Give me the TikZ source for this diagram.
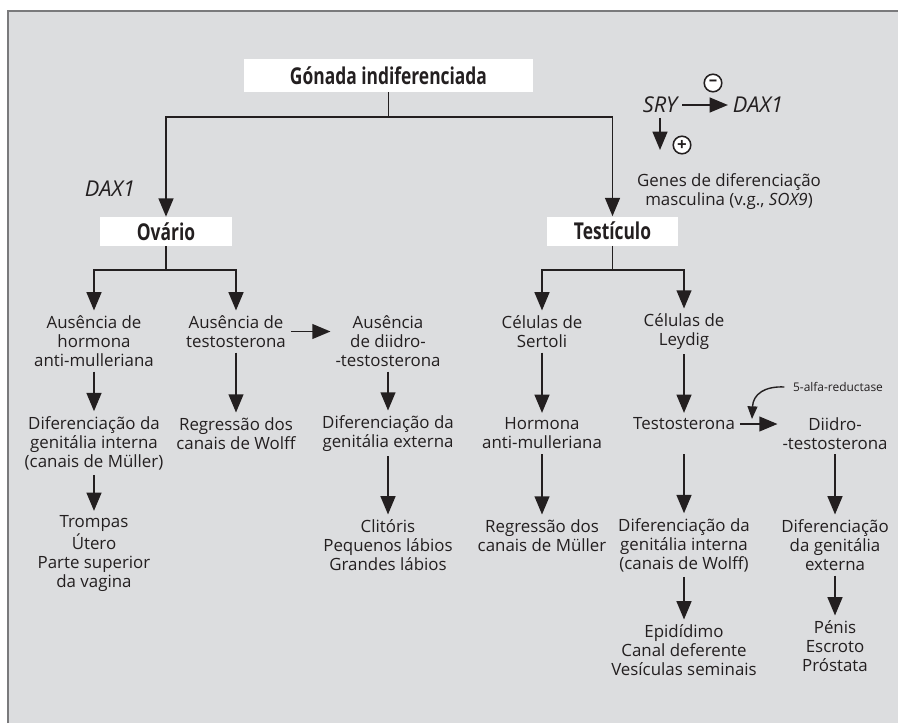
\documentclass[tikz,border=0pt]{standalone}
\usepackage{fontspec}
\setmainfont{Open Sans}
\newfontfamily\titulofont{Open Sans}[FakeStretch=0.75]
\usetikzlibrary{arrows.meta}

\definecolor{fundo}{RGB}{220,221,223}
\definecolor{tinta}{RGB}{35,31,32}
\definecolor{moldura}{RGB}{122,122,124}

\tikzset{
    caixa/.style={fill=white, text=tinta, minimum height=0.725cm,
        font=\titulofont\fontsize{16.5pt}{18pt}\selectfont\bfseries},
    texto/.style={align=center, text=tinta, font=\fontsize{12pt}{13.5pt}\selectfont},
    gene/.style={text=tinta, font=\fontsize{15.5pt}{17pt}\selectfont\itshape},
    sinal/.style={circle, draw=tinta, fill=white, line width=1.1pt, minimum size=12.5pt,
        inner sep=0pt, text=tinta, font=\fontsize{12pt}{12pt}\selectfont\bfseries},
    linha/.style={line width=1.4pt, draw=tinta},
    seta/.style={linha, -{Triangle[length=13pt,width=10.5pt]}},
}

\begin{document}
\begin{tikzpicture}[x=0.025cm, y=-0.025cm]
    \useasboundingbox (0,0) rectangle (898,723);
    % fundo e moldura
    \fill[fundo] (8,11) rectangle (898,723);
    \draw[moldura, line width=1.4pt] (8,723) -- (8,11) -- (898,11);

    % topo: gonada e as duas vias
    \node[caixa, minimum width=7.225cm, minimum height=0.825cm] (gonada) at (388.5,75.5) {Gónada indiferenciada};
    \node[caixa, minimum width=3.3cm] (ovario) at (166,231.5) {Ovário};
    \node[caixa, minimum width=3.275cm] (testiculo) at (612.5,231) {Testículo};
    \coordinate (gj) at (388.5,117);
    \draw[linha] (gonada) -- (gj);
    \draw[seta] (gj) -| (ovario);
    \draw[seta] (gj) -| (testiculo);
    \node[gene, anchor=east] (daxov) at (140,189) {DAX1};

    % SRY / DAX1
    \node[gene] (sry) at (660,105) {SRY};
    \node[gene] (dax) at (758,105) {DAX1};
    \draw[seta] (sry) -- (dax);
    \node[sinal] (menos) at (713,83) {–};
    \coordinate (srytip) at (660,150);
    \draw[seta] (sry) -- (srytip);
    \node[sinal] (mais) at (682,145) {+};
    \node[texto] (genes) at (729,191.5) {Genes de diferenciação\\masculina (v.g., \textit{SOX9})};

    % via feminina
    \node[texto] (A1) at (94,341) {Ausência de\\hormona\\anti-mulleriana};
    \node[texto] (B1) at (236,331.5) {Ausência de\\testosterona};
    \node[texto] (C1) at (388,341) {Ausência\\de diidro-\\-testosterona};
    \node[texto] (A2) at (94,443) {Diferenciação da\\genitália interna\\(canais de Müller)};
    \node[texto] (B2) at (236,433.5) {Regressão dos\\canais de Wolff};
    \node[texto] (C2) at (388,433.5) {Diferenciação da\\genitália externa};
    \node[texto] (A3) at (94,553.5) {Trompas\\Útero\\Parte superior\\da vagina};
    \node[texto] (C3) at (388,545) {Clitóris\\Pequenos lábios\\Grandes lábios};
    \coordinate (oj) at (166,270);
    \draw[linha] (ovario) -- (oj);
    \draw[seta] (oj) -| (A1);
    \draw[seta] (oj) -| (B1);
    \draw[seta] (B1.east) -- (B1.east -| C1.west);
    \draw[seta] (A1) -- (A2);
    \draw[seta] (B1) -- (B2);
    \draw[seta] (C1) -- (C2);
    \draw[seta] (A2) -- (A3);
    \draw[seta] (C2) -- (C3);

    % via masculina
    \node[texto] (D1) at (542,331.5) {Células de\\Sertoli};
    \node[texto] (E1) at (684,331.5) {Células de\\Leydig};
    \node[texto] (D2) at (542,433.5) {Hormona\\anti-mulleriana};
    \node[texto] (E2) at (684,424) {Testosterona};
    \node[texto] (F2) at (835,433.5) {Diidro-\\-testosterona};
    \node[texto] (D3) at (542,535.5) {Regressão dos\\canais de Müller};
    \node[texto] (E3) at (684,545) {Diferenciação da\\genitália interna\\(canais de Wolff)};
    \node[texto] (F3) at (835,545) {Diferenciação\\da genitália\\externa};
    \node[texto] (E4) at (684,650) {Epidídimo\\Canal deferente\\Vesículas seminais};
    \node[texto] (F4) at (835,646) {Pénis\\Escroto\\Próstata};
    \coordinate (tj) at (612.5,270);
    \draw[linha] (testiculo) -- (tj);
    \draw[seta] (tj) -| (D1);
    \draw[seta] (tj) -| (E1);
    \draw[seta] (D1) -- (D2);
    \draw[seta] (E1) -- (E2);
    \draw[seta] (E2.east) -- (E2.east -| F2.west);
    \draw[seta] (D2) -- (D3);
    \draw[seta] (E2 |- D2.south) -- (E3);
    \draw[seta] (F2) -- (F3);
    \draw[seta] (E3) -- (E4);
    \draw[seta] (F3) -- (F4);

    % enzima sobre a conversao
    \node[text=tinta, font=\fontsize{8.5pt}{10pt}\selectfont, inner xsep=6pt] (enzima) at (838,387) {5-alfa-reductase};
    \coordinate (redtip) at (752,419);
    \draw[line width=1pt, draw=tinta, -{Triangle[length=9pt,width=7pt]}]
        (enzima.west) .. controls (765,386) and (753,394) .. (redtip);
\end{tikzpicture}
\end{document}
